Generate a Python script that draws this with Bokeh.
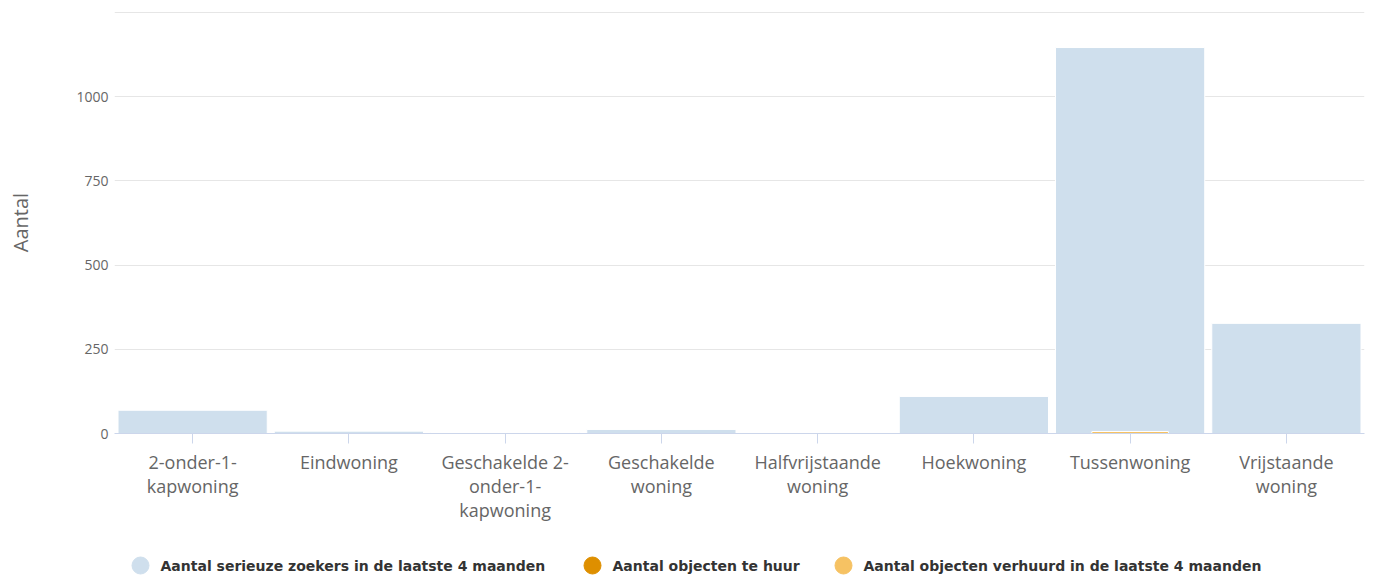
from bokeh.plotting import figure
from bokeh.layouts import column
from bokeh.models import Range1d, FixedTicker, ColumnDataSource
from bokeh.core.properties import value
from bokeh.embed import file_html
from bokeh.resources import INLINE

categories = ["2-onder-1-kapwoning", "Eindwoning", "Geschakelde 2-onder-1-kapwoning",
              "Geschakelde woning", "Halfvrijstaande woning", "Hoekwoning",
              "Tussenwoning", "Vrijstaande woning"]
tick_labels = ["2-onder-1-\nkapwoning", "Eindwoning", "Geschakelde 2-\nonder-1-\nkapwoning",
               "Geschakelde\nwoning", "Halfvrijstaande\nwoning", "Hoekwoning",
               "Tussenwoning", "Vrijstaande\nwoning"]
zoekers = [69, 7, 3, 12, 1, 110, 1146, 327]
te_huur = [0, 0, 0, 0, 0, 0, 0, 0]
verhuurd = [0, 0, 0, 0, 0, 0, 6, 0]
series_names = ["Aantal serieuze zoekers in de laatste 4 maanden",
                "Aantal objecten te huur",
                "Aantal objecten verhuurd in de laatste 4 maanden"]
colors = ["#cfdfed", "#de8f00", "#f6c263"]
y_ticks = [0, 250, 500, 750, 1000, 1250]

xs = [i + 0.5 for i in range(len(categories))]
src = ColumnDataSource(dict(x=xs, cat=categories, z=zoekers, h=te_huur, v=verhuurd))

FONT = "Open Sans"
W = 1373
BL, BR = 114, 9

p = figure(width=W, height=528, output_backend="svg", toolbar_location=None,
           x_range=Range1d(0, len(categories)), y_range=Range1d(0, 1253),
           min_border_left=BL, min_border_right=BR, min_border_top=11, min_border_bottom=95)
p.outline_line_color = None
p.background_fill_color = "white"
p.border_fill_color = "white"

p.vbar(x="x", top="z", width=0.955, source=src, fill_color=colors[0],
       line_color="white", line_width=1)
p.vbar(x="x", top="h", width=0.49, source=src, fill_color=colors[1],
       line_color="white", line_width=1)
p.vbar(x="x", top="v", width=0.49, source=src, fill_color=colors[2],
       line_color="white", line_width=1)

# x axis
xa = p.xaxis[0]
xa.ticker = FixedTicker(ticks=xs)
xa.major_label_overrides = {x: lab for x, lab in zip(xs, tick_labels)}
xa.axis_line_color = "#ccd6eb"
xa.major_tick_line_color = "#ccd6eb"
xa.major_tick_out = 10
xa.major_tick_in = 0
xa.minor_tick_line_color = None
xa.major_label_text_font = FONT
xa.major_label_text_font_size = "18px"
xa.major_label_text_color = "#666666"
xa.major_label_text_line_height = 1.0
xa.major_label_standoff = 6

# y axis
ya = p.yaxis[0]
ya.ticker = FixedTicker(ticks=y_ticks)
ya.major_label_overrides = {1250: ""}
ya.axis_line_color = None
ya.major_tick_line_color = None
ya.minor_tick_line_color = None
ya.major_label_text_font = FONT
ya.major_label_text_font_size = "14px"
ya.major_label_text_color = "#666666"
ya.major_label_text_baseline = "bottom"
ya.major_label_standoff = 0
ya.axis_label = "Aantal"
ya.axis_label_text_font = FONT
ya.axis_label_text_font_size = "20px"
ya.axis_label_text_font_style = "normal"
ya.axis_label_text_color = "#666666"
ya.axis_label_standoff = 39

p.xgrid.grid_line_color = None
p.ygrid.grid_line_color = "#e6e6e6"
p.ygrid.grid_line_width = 1

# legend strip (x in page pixels, frame aligned with main plot)
LH = 50
lf = figure(width=W, height=LH, output_backend="svg", toolbar_location=None,
            x_range=Range1d(BL, W - BR), y_range=Range1d(0, LH),
            x_axis_type=None, y_axis_type=None,
            min_border_left=BL, min_border_right=BR, min_border_top=0, min_border_bottom=0)
lf.outline_line_color = None
lf.xgrid.visible = False
lf.ygrid.visible = False
legend_x = [140, 592, 843]
legend_y = 13
lsrc = ColumnDataSource(dict(x=legend_x, tx=[x + 20 for x in legend_x],
                             y=[legend_y] * 3, color=colors, name=series_names))
lf.scatter(x="x", y="y", marker="circle", size=17, fill_color="color",
           line_color="color", source=lsrc)
lf.text(x="tx", y="y", text="name", source=lsrc, text_font=value("DejaVu Sans"),
        text_font_size="14px", text_font_style="bold", text_color="#333333",
        text_baseline="middle", text_align="left")

open("out.html", "w").write(file_html(column(p, lf, spacing=0), INLINE))
